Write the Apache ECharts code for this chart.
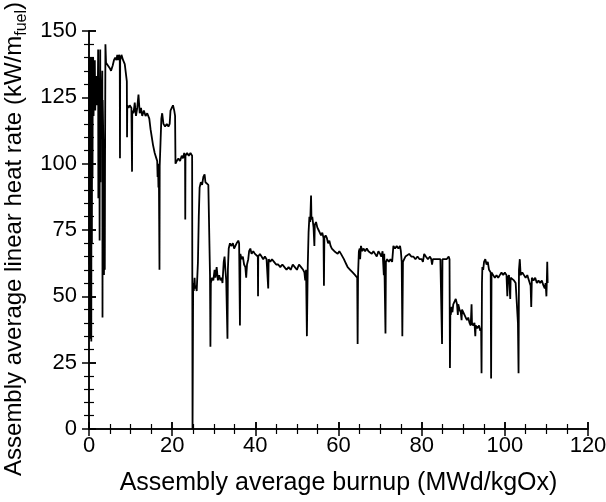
<!DOCTYPE html>
<html>
<head>
<meta charset="utf-8">
<script src="https://cdn.jsdelivr.net/npm/echarts@6.0.0/dist/echarts.min.js"></script>
<style>
  html, body { margin: 0; padding: 0; background: #fff; }
  #chart { width: 606px; height: 502px; }
</style>
</head>
<body>
<div id="chart"></div>
<script>
// burnup (MWd/kgOx), linear heat rate (kW/m) pairs, in pieces
var cycleA = [
  [0.0,128],[0.05,140],[0.1,62],[0.15,137],[0.2,34],[0.25,133],[0.3,140],[0.35,48],[0.4,130],[0.45,38],
  [0.5,136],[0.55,33],[0.6,128],[0.65,140],[0.7,70],[0.75,132],[0.8,138],[0.85,95],[0.9,135],[0.95,125],
  [1.0,140],[1.1,118],[1.2,136],[1.3,128],[1.4,139],[1.5,120],[1.6,130],[1.7,125],[1.8,133],[1.9,122],
  [2.0,128],[2.1,124],[2.2,143],[2.25,87],[2.3,125],[2.4,121],[2.5,124],[2.55,71],[2.6,122],[2.7,143],
  [2.75,93],[2.8,124],[3.0,122],[3.2,135],[3.25,42],[3.3,124],[3.5,102],[3.6,58],[3.7,100],[3.8,60],
  [3.85,98],[3.95,145],[4.1,138],[4.5,138],[5.0,136],[5.3,135],[5.7,137],[6.0,139],[6.3,140],[6.6,139],
  [6.8,141],[7.0,139],[7.2,141],[7.4,140],[7.45,102],[7.5,139],[7.8,141],[8.2,139],[8.6,137.5],[9.0,137],
  [9.1,131],[9.15,110],[9.2,122],[9.5,121],[9.8,122],[10.2,121],[10.35,97],[10.4,120],[10.7,119],[11.0,123],
  [11.3,118],[11.6,121],[11.9,126],[12.2,119],[12.5,121],[12.8,118],[13.2,120],[13.6,118],[14.0,119],[14.5,117],
  [14.8,113],[15.1,110],[15.4,107],[15.8,104],[16.2,102],[16.4,101],[16.5,95],[16.6,100],[16.7,91],[16.8,98],
  [16.95,60],[17.0,99],[17.2,108],[17.4,117],[17.6,119],[17.9,115],[18.3,114],[18.7,115],[19.1,114],[19.4,115],
  [19.6,120],[19.9,121],[20.2,122],[20.5,120],[20.7,118],[20.8,100],[21.1,101],[21.5,102],[21.9,101],[22.3,103],
  [22.6,102],[22.9,104],[23.1,103],[23.15,79],[23.2,103],[23.6,104],[24.0,103],[24.4,104],[24.8,103],[24.9,0]
];
var cycleB = [
  [25.0,0],[25.05,55],[25.2,52],[25.4,57],[25.5,53],[25.7,54],[25.9,52],[26.2,63],[26.4,80],[26.6,91],
  [26.9,93],[27.2,92],[27.5,95],[27.8,96],[28.0,93],[28.4,93],[28.7,92],[28.9,92],[29.1,58],[29.2,31],
  [29.3,55],[29.6,57],[29.9,56],[30.2,60],[30.4,57],[30.7,61],[31.0,56],[31.3,58],[31.6,56],[31.9,57],
  [32.1,55],[32.4,63],[32.6,65],[32.8,60],[33.0,56],[33.3,34],[33.4,60],[33.6,68],[33.9,70],[34.2,69],
  [34.6,70],[34.9,68],[35.2,69],[35.5,70],[35.9,71],[36.1,70],[36.3,39],[36.4,66],[36.7,64],[37.0,65],
  [37.3,62],[37.6,61],[37.8,57],[38.0,62],[38.3,64],[38.5,67],[38.8,68],[39.1,66],[39.5,67],[39.9,66],
  [40.3,66],[40.6,65],[40.65,50],[40.7,65],[41.1,66],[41.5,65],[41.9,64],[42.3,65],[42.7,64],[43.0,64],
  [43.1,53],[43.2,64],[43.6,63],[44.0,64],[44.5,63],[45.0,62],[45.5,62],[46.0,61],[46.5,62],[47.0,61],
  [47.5,60],[48.0,61],[48.5,60],[49.0,62],[49.5,61],[50.0,60],[50.5,62],[51.0,61],[51.5,60],[51.8,59],
  [52.0,56],[52.2,60],[52.4,35],[52.6,61]
];
var cycleC = [
  [52.8,74],[53.0,80],[53.2,78],[53.4,88],[53.5,79],[53.7,80],[54.0,76],[54.2,69],[54.3,77],[54.6,78],
  [54.9,76],[55.2,75],[55.5,74],[55.8,73],[56.1,74],[56.4,72],[56.5,54],[56.6,72],[56.9,73],[57.2,72],
  [57.5,70],[57.8,71],[58.1,69],[58.4,68],[58.7,68],[59.0,67],[59.4,67],[59.8,66],[60.2,67],[60.6,66],
  [61.0,66],[61.3,64],[61.6,63],[61.9,62],[62.2,61],[62.5,61],[62.8,60],[63.1,60],[63.4,59],[63.7,59],
  [64.0,58],[64.3,58],[64.5,57],[64.6,32],[64.7,58],[64.9,67],[65.1,68],[65.2,64],[65.4,69],[65.7,67],
  [66.0,68],[66.4,67],[66.8,68],[67.2,67],[67.6,67],[68.0,66],[68.4,67],[68.8,66],[69.2,65],[69.6,67],
  [70.0,66],[70.3,65],[70.6,67],[70.9,58],[71.0,66],[71.3,36],[71.4,63],[71.7,64],[72.1,63],[72.5,64],
  [72.9,63],[73.2,69],[73.6,68],[74.0,69],[74.4,68],[74.8,69],[75.0,67],[75.2,63],[75.35,35],[75.5,63],
  [75.8,64],[76.1,65],[76.5,65],[77.0,66],[77.5,65],[78.0,65],[78.5,64],[79.0,65],[79.5,64],[80.0,64],
  [80.3,63],[80.6,66],[81.0,65],[81.5,64],[82.0,65],[82.3,64],[82.5,62],[82.7,64],[83.0,64],[83.5,64],
  [84.0,64],[84.5,64],[84.8,64],[84.9,32],[85.0,64],[85.5,64],[86.0,64],[86.5,65],[86.7,64],[86.8,23],
  [86.9,45]
];
var cycleD = [
  [87.0,43],[87.2,46],[87.4,44],[87.6,47],[87.9,48],[88.2,49],[88.5,47],[88.7,43],[88.8,47],[89.1,45],
  [89.4,44],[89.6,41],[89.7,45],[90.0,44],[90.3,43],[90.6,42],[90.9,41],[91.2,42],[91.5,40],[91.8,39],
  [92.0,47],[92.1,40],[92.4,39],[92.7,40],[92.9,35],[93.0,39],[93.4,38],[93.8,39],[94.1,37],[94.3,38],
  [94.4,21],[94.5,55],[94.6,61],[94.8,60],[95.0,63],[95.3,64],[95.6,62],[95.9,63],[96.2,60],[96.6,59],
  [96.7,19],[96.8,59],[97.2,58],[97.6,57],[98.0,58],[98.4,57],[98.8,58],[99.2,59],[99.6,58],[100.0,59],
  [100.4,58],[100.6,50],[100.7,57],[101.0,58],[101.3,49],[101.4,57],[101.8,57],[102.2,56],[102.6,55],[103.0,55],
  [103.15,40],[103.3,21],[103.4,60],[103.6,64],[103.8,58],[104.2,59],[104.6,58],[105.0,57],[105.4,58],[105.8,56],
  [106.2,54],[106.35,46],[106.5,57],[106.9,56],[107.3,57],[107.7,55],[108.1,56],[108.5,55],[108.9,56],[109.3,54],
  [109.6,53],[109.8,55],[110.0,50],[110.1,56],[110.2,63],[110.3,55]
];

var xTicks = { min: 0, max: 120, step: 20, minorSplit: 4 };
var yTicks = { min: 0, max: 150, step: 25, minorSplit: 5 };

var xTitle = 'Assembly average burnup (MWd/kgOx)';
var yTitle = '{m|Assembly average linear heat rate (kW/m}{s|fuel}{m|)}';

var font = 'Liberation Sans, Arial, Helvetica, sans-serif';
var black = '#000';

function makeAxis(range, position, inside, main) {
  return {
    type: 'value',
    position: position,
    min: range.min,
    max: range.max,
    interval: range.step,
    splitLine: { show: false },
    axisLine: { show: inside, lineStyle: { color: black, width: 1.5 } },
    axisTick: { show: true, inside: inside, length: 7, lineStyle: { color: black, width: 1.5 } },
    minorTick: { show: inside, splitNumber: range.minorSplit, length: 5, lineStyle: { color: black, width: 1.2 } },
    axisLabel: {
      show: !!main,
      color: black,
      fontFamily: font,
      fontSize: 22,
      margin: (position === 'left' ? 12 : 6)
    }
  };
}

var xMain = makeAxis(xTicks, 'bottom', true, true);
xMain.name = xTitle;
xMain.nameLocation = 'middle';
xMain.nameGap = 42;
xMain.nameTextStyle = { color: black, fontFamily: font, fontSize: 25 };

var yMain = makeAxis(yTicks, 'left', true, true);
yMain.name = yTitle;
yMain.nameLocation = 'middle';
yMain.nameGap = 55;
yMain.nameTextStyle = {
  color: black,
  fontFamily: font,
  padding: [0, 18, 0, 0],
  rich: {
    m: { fontSize: 24, lineHeight: 30, color: black, fontFamily: font },
    s: { fontSize: 16, lineHeight: 16, verticalAlign: 'bottom', color: black, fontFamily: font }
  }
};

var chart = echarts.init(document.getElementById('chart'));
chart.setOption({
  animation: false,
  backgroundColor: '#fff',
  grid: { left: 89, right: 18, top: 31, bottom: 73, outerBoundsMode: 'none' },
  xAxis: [
    xMain,
    makeAxis(xTicks, 'bottom', false),
    makeAxis(xTicks, 'top', true),
    makeAxis(xTicks, 'top', false)
  ],
  yAxis: [
    yMain,
    makeAxis(yTicks, 'left', false),
    makeAxis(yTicks, 'right', true),
    makeAxis(yTicks, 'right', false)
  ],
  series: [{
    type: 'line',
    xAxisIndex: 0,
    yAxisIndex: 0,
    data: cycleA.concat(cycleB, cycleC, cycleD),
    showSymbol: false,
    symbol: 'none',
    lineStyle: { color: black, width: 1.8 }
  }]
});
</script>
</body>
</html>
